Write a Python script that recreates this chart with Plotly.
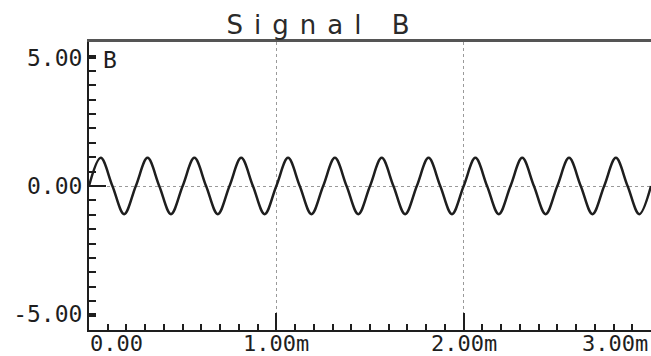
import plotly.graph_objects as go

# Signal B samples (time in ms, value in V) at peaks, troughs and zero crossings
t_ms = [0.0, 0.0625, 0.125, 0.1875, 0.25, 0.3125, 0.375, 0.4375, 0.5, 0.5625,
        0.625, 0.6875, 0.75, 0.8125, 0.875, 0.9375, 1.0, 1.0625, 1.125, 1.1875,
        1.25, 1.3125, 1.375, 1.4375, 1.5, 1.5625, 1.625, 1.6875, 1.75, 1.8125,
        1.875, 1.9375, 2.0, 2.0625, 2.125, 2.1875, 2.25, 2.3125, 2.375, 2.4375,
        2.5, 2.5625, 2.625, 2.6875, 2.75, 2.8125, 2.875, 2.9375, 3.0]
volts = [0.0, 1.1, 0.0, -1.1, 0.0, 1.1, 0.0, -1.1, 0.0, 1.1,
         0.0, -1.1, 0.0, 1.1, 0.0, -1.1, 0.0, 1.1, 0.0, -1.1,
         0.0, 1.1, 0.0, -1.1, 0.0, 1.1, 0.0, -1.1, 0.0, 1.1,
         0.0, -1.1, 0.0, 1.1, 0.0, -1.1, 0.0, 1.1, 0.0, -1.1,
         0.0, 1.1, 0.0, -1.1, 0.0, 1.1, 0.0, -1.1, 0.0]

y_tick_vals = [-5, 0, 5]
y_tick_text = ["-5.00", "0.00", "5.00"]
x_tick_vals = [0, 1, 2, 3]
x_tick_text = ["0.00", "1.00m", "2.00m", "3.00m"]
title_text = "Signal B"
channel_label = "B"

X_RANGE = [0, 3.0]
Y_RANGE = [-5.63, 5.63]
FONT = "DejaVu Sans Mono"
INK = "#1e1e1e"

fig = go.Figure()
fig.add_trace(go.Scatter(
    x=t_ms, y=volts, mode="lines",
    line=dict(color=INK, width=2.5, shape="spline", smoothing=1.0),
    showlegend=False, hoverinfo="skip"))
# empty trace to host the overlay axes (long centre ticks, top frame line)
fig.add_trace(go.Scatter(x=[], y=[], xaxis="x2", yaxis="y2", showlegend=False))

fig.update_layout(
    width=651, height=356,
    margin=dict(l=89, r=0, t=42, b=26),
    paper_bgcolor="white", plot_bgcolor="white",
    title=dict(text='<span style="letter-spacing:11px">' + title_text + '</span>',
               x=0.497, xanchor="center", y=0.93, yanchor="middle",
               font=dict(family="DejaVu Sans ExtraLight, DejaVu Sans", size=26, color="#2a2a2a")),
    xaxis=dict(range=X_RANGE, tickvals=x_tick_vals[1:3], ticks="inside", ticklen=17,
               tickwidth=1.5, tickcolor=INK, showticklabels=False,
               showgrid=True, griddash="dot", gridcolor="#9a9a9a", gridwidth=1,
               zeroline=False, showline=True, linecolor=INK, linewidth=2,
               minor=dict(dtick=0.1, tick0=0, ticks="inside", ticklen=6,
                          tickwidth=1.5, tickcolor=INK, showgrid=False)),
    yaxis=dict(range=Y_RANGE, tickvals=y_tick_vals, ticktext=y_tick_text,
               ticks="inside", ticklen=7, tickwidth=1.5, tickcolor=INK,
               tickfont=dict(family=FONT, size=23, color=INK),
               showgrid=False, zeroline=False, showline=True, linecolor=INK, linewidth=2,
               minor=dict(dtick=0.563, tick0=0, ticks="inside", ticklen=7,
                          tickwidth=1.5, tickcolor=INK, showgrid=False)),
    xaxis2=dict(range=X_RANGE, overlaying="x", side="top", showline=True,
                linecolor="#555", linewidth=2.5, ticks="", showticklabels=False,
                showgrid=False, zeroline=False),
    yaxis2=dict(range=Y_RANGE, overlaying="y", side="left", tickvals=[0],
                ticks="inside", ticklen=17, tickwidth=1.5, tickcolor=INK,
                showticklabels=False, showgrid=True, griddash="dot",
                gridcolor="#9a9a9a", gridwidth=1, zeroline=False, showline=False),
)

anchors = ["left", "center", "center", "right"]
for v, txt, anc in zip(x_tick_vals, x_tick_text, anchors):
    fig.add_annotation(x=v, y=0, xref="x", yref="paper", text=txt, showarrow=False,
                       xanchor=anc, yanchor="middle", yshift=-13, borderpad=0,
                       xshift=-2 if anc == "right" else 0,
                       font=dict(family=FONT, size=22, color=INK))

fig.add_annotation(x=0, y=1, xref="paper", yref="paper", text=channel_label,
                   showarrow=False, xanchor="left", yanchor="top", xshift=12, yshift=-3,
                   font=dict(family=FONT, size=23, color=INK))

fig.write_html("out.html")
